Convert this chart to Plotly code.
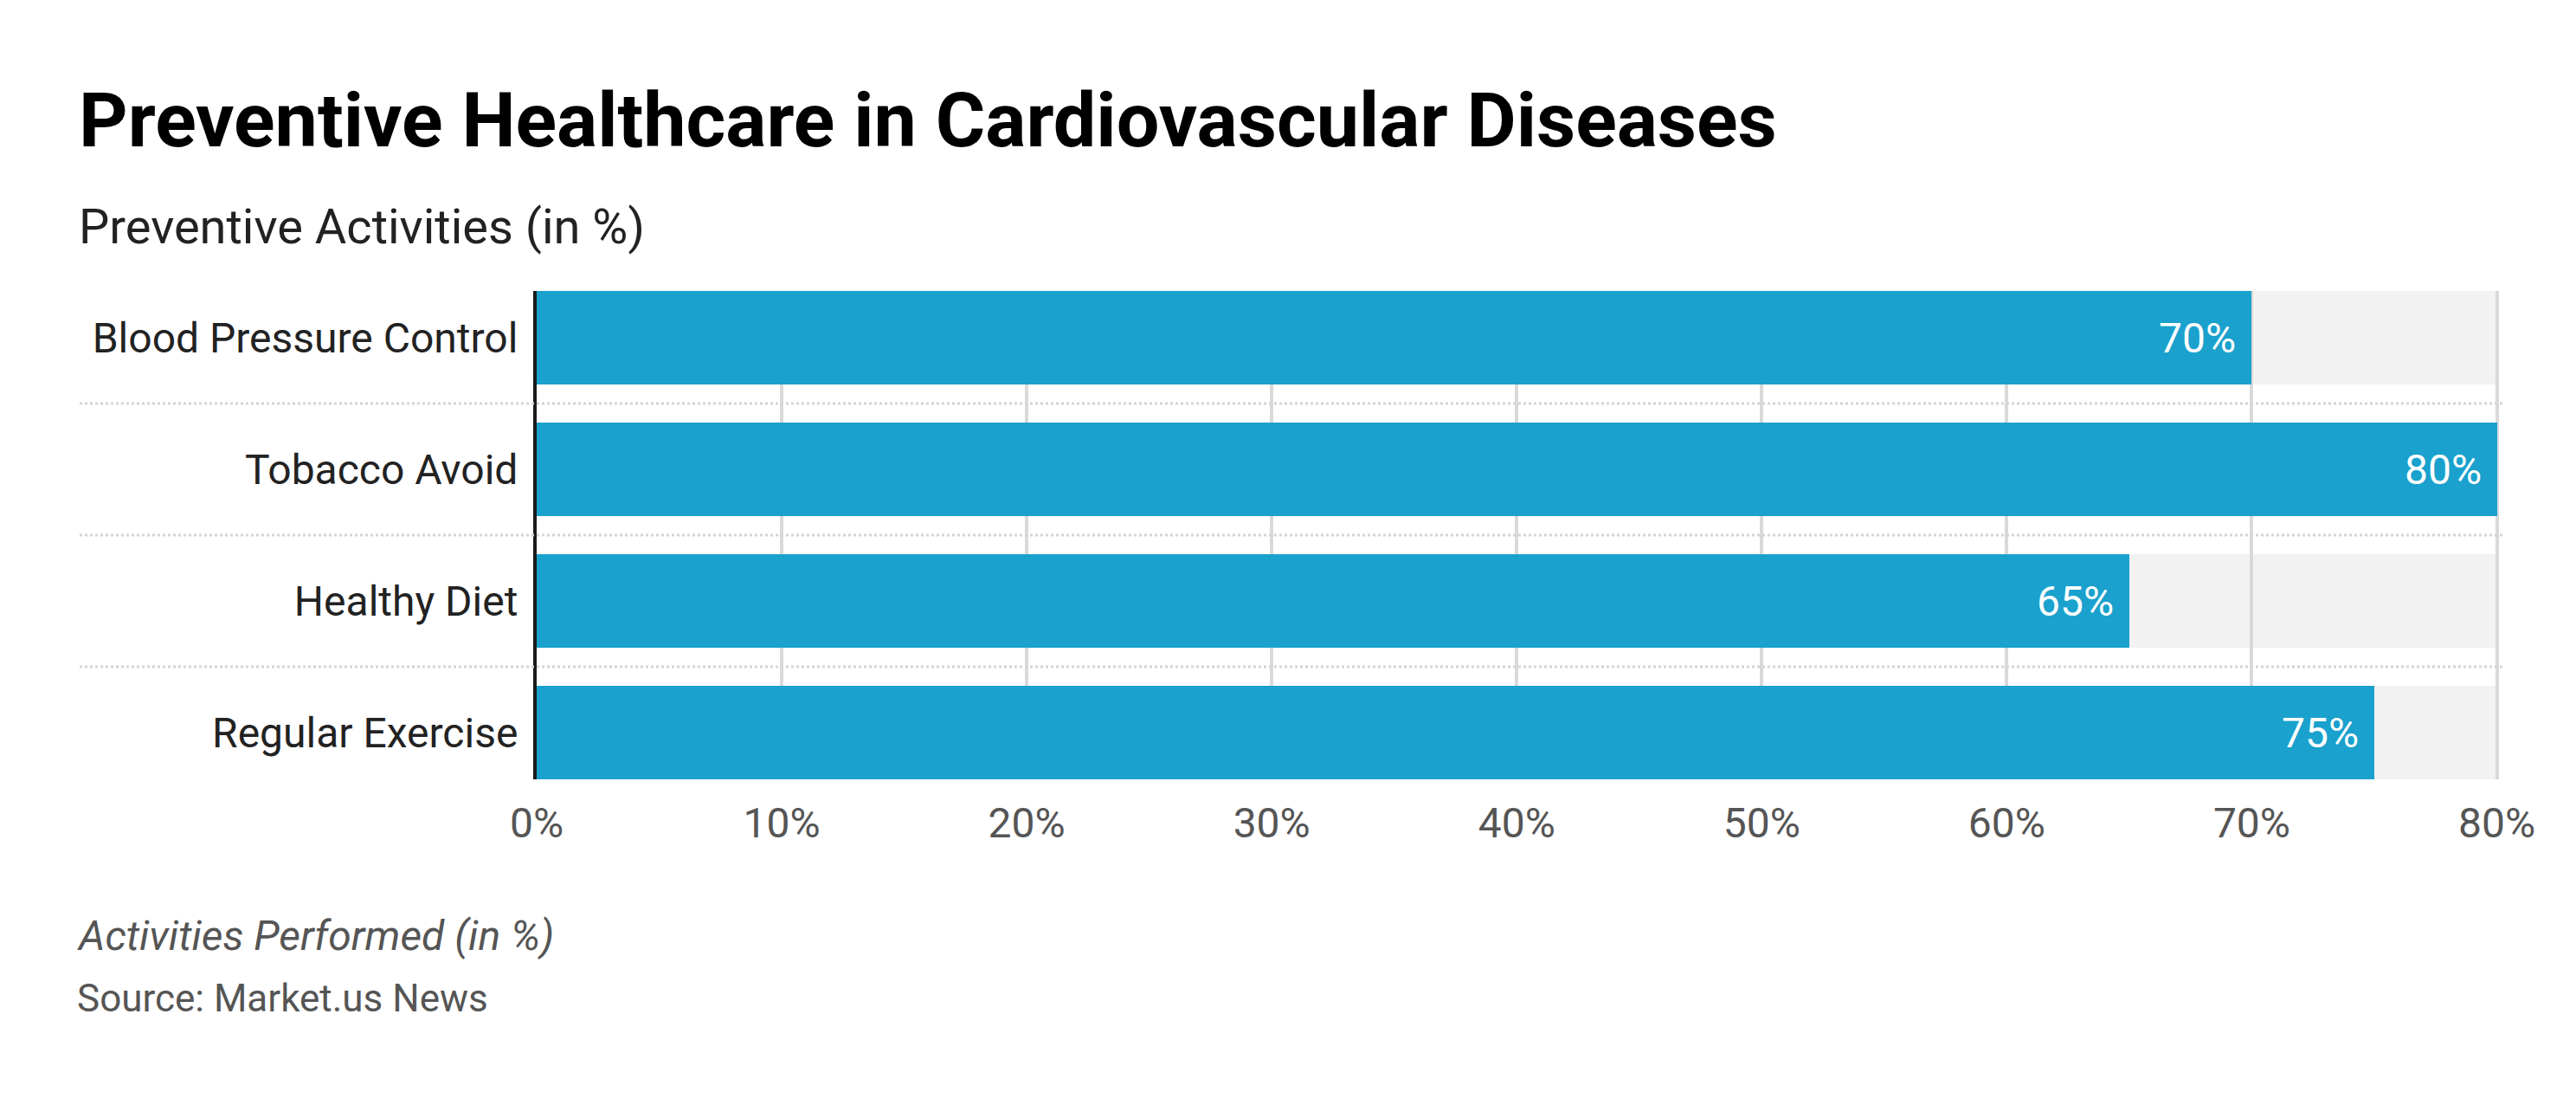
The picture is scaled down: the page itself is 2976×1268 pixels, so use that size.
import plotly.graph_objects as go

categories = ["Blood Pressure Control", "Tobacco Avoid", "Healthy Diet", "Regular Exercise"]
values = [70, 80, 65, 75]
x_tickvals = [0, 10, 20, 30, 40, 50, 60, 70, 80]
x_ticktext = ["0%", "10%", "20%", "30%", "40%", "50%", "60%", "70%", "80%"]
track_max = 80

# The page body has an 8px margin; work in figure coordinates (page - OFF)
OFF = 8
W, H = 2976 - OFF, 1268 - OFF
L, R, T, B = 620 - OFF, 2893 - OFF, 336 - OFF, 900 - OFF
XMAX = 80.3
BAR_W = 0.7105

BLUE = "#1aa1cd"
FONT = "Roboto"

def pxx(px):
    return (px - OFF - L) / (R - L)

def pxy(py):
    return (B - (py - OFF)) / (B - T)

ypos = list(range(len(categories)))

fig = go.Figure()
fig.add_trace(go.Bar(
    x=values, y=ypos, orientation="h", marker=dict(color=BLUE, line=dict(width=0)),
    width=BAR_W, hoverinfo="skip", showlegend=False,
))

shapes = []
for i in ypos:
    shapes.append(dict(type="rect", xref="x", yref="y", x0=0, x1=track_max,
                       y0=i - BAR_W / 2, y1=i + BAR_W / 2, fillcolor="#f2f2f2",
                       line=dict(width=0), layer="below"))
for i in ypos[:-1]:
    shapes.append(dict(type="line", xref="paper", yref="y", x0=pxx(92), x1=1,
                       y0=i + 0.5, y1=i + 0.5, line=dict(color="#d4d4d4", width=3, dash="dot"),
                       layer="above"))

annotations = []
for i, v in zip(ypos, values):
    annotations.append(dict(x=v, y=i, xref="x", yref="y", text=f"{v}%", showarrow=False,
                            xanchor="right", yanchor="middle", xshift=-16,
                            font=dict(family=FONT, size=48, color="white")))

annotations.append(dict(xref="paper", yref="paper", x=pxx(89), y=pxy(261.5), xanchor="left",
                        yanchor="middle", showarrow=False, text="Preventive Activities (in %)",
                        font=dict(family=FONT, size=56, color="#222222")))
annotations.append(dict(xref="paper", yref="paper", x=pxx(87), y=pxy(1080), xanchor="left",
                        yanchor="middle", showarrow=False, text="<i>Activities Performed (in %)</i>",
                        font=dict(family=FONT, size=48, color="#555555")))
annotations.append(dict(xref="paper", yref="paper", x=pxx(87), y=pxy(1153), xanchor="left",
                        yanchor="middle", showarrow=False, text="Source: Market.us News",
                        font=dict(family=FONT, size=44, color="#555555")))

fig.update_layout(
    width=W, height=H,
    margin=dict(l=L, r=W - R, t=T, b=H - B, pad=0),
    paper_bgcolor="white", plot_bgcolor="white",
    title=dict(text="<b>Preventive Healthcare in Cardiovascular Diseases</b>",
               xref="container", yref="container", x=(91 - OFF) / W, y=1 - (138 - OFF) / H,
               xanchor="left", yanchor="middle",
               font=dict(family=FONT, size=88, color="#000000")),
    shapes=shapes,
    annotations=annotations,
    bargap=0,
    xaxis=dict(range=[0, XMAX], tickvals=x_tickvals, ticktext=x_ticktext,
               showgrid=True, gridcolor="#d9d9d9", gridwidth=3.5,
               zeroline=False, showline=False, ticks="",
               tickfont=dict(family=FONT, size=48, color="#555555"),
               ticklabelstandoff=18, fixedrange=True),
    yaxis=dict(range=[len(categories) - 1 + BAR_W / 2, -BAR_W / 2],
               tickvals=ypos, ticktext=categories,
               showgrid=False, zeroline=False, showline=True, linecolor="#1a1a1a", linewidth=4,
               ticks="", ticklabelstandoff=8,
               tickfont=dict(family=FONT, size=48, color="#222222"), fixedrange=True),
)

fig.write_html("out.html")
